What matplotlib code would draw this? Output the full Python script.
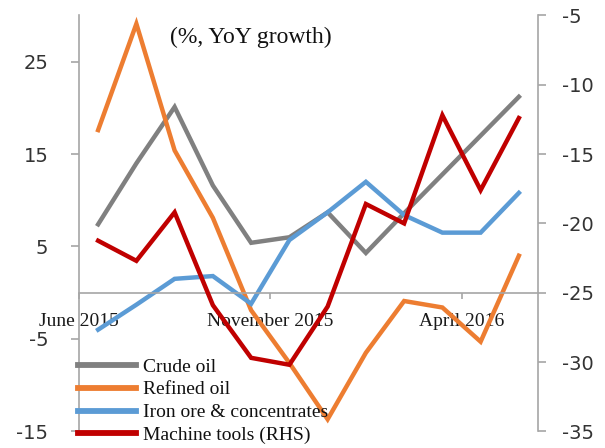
import numpy as np
import matplotlib
matplotlib.use("Agg")
import matplotlib.pyplot as plt

plt.rcParams["axes.unicode_minus"] = False

months = ["Jun 2015", "Jul 2015", "Aug 2015", "Sep 2015", "Oct 2015", "Nov 2015",
          "Dec 2015", "Jan 2016", "Feb 2016", "Mar 2016", "Apr 2016", "May 2016"]
crude_oil = [7.4, 14.0, 20.1, 11.6, 5.4, 6.0, 8.7, 4.3, 8.6, 12.8, 17.0, 21.2]
refined_oil = [17.6, 29.1, 15.4, 8.1, -1.9, -7.6, -13.7, -6.5, -0.9, -1.6, -5.3, 4.0]
iron_ore = [-4.0, -1.3, 1.5, 1.8, -1.2, 5.7, 8.7, 12.0, 8.4, 6.5, 6.5, 10.8]
machine_tools = [-21.25, -22.7, -19.2, -25.9, -29.7, -30.2, -26.0, -18.6, -20.0, -12.2, -17.6, -12.4]

xtick_pos = [0, 5, 10]
xtick_labels = ["June 2015", "November 2015", "April 2016"]
left_ticks = [-15, -5, 5, 15, 25]
right_ticks = [-35, -30, -25, -20, -15, -10, -5]

GRAY = "#808080"
ORANGE = "#ED7D31"
BLUE = "#5B9BD5"
RED = "#C00000"
AXC = "#A6A6A6"
TXT = "#333333"
SERIF = "Liberation Serif"

W, H = 605, 448
fig = plt.figure(figsize=(W / 100, H / 100), dpi=100)
ax = fig.add_axes([79 / W, 1 - 431.3 / H, (538 - 79) / W, (431.3 - 15.5) / H])
ax2 = ax.twinx()

x = np.arange(len(months)) + 0.5
lw = 3.2
l1, = ax.plot(x, crude_oil, color=GRAY, lw=lw, label="Crude oil", solid_joinstyle="miter")
l2, = ax.plot(x, refined_oil, color=ORANGE, lw=lw, label="Refined oil", solid_joinstyle="miter")
l3, = ax.plot(x, iron_ore, color=BLUE, lw=lw, label="Iron ore & concentrates", solid_joinstyle="miter")
l4, = ax2.plot(x, machine_tools, color=RED, lw=lw, label="Machine tools (RHS)", solid_joinstyle="miter")

for a in (ax, ax2):
    a.spines["top"].set_visible(False)
    a.patch.set_visible(False)
ax.spines["right"].set_visible(False)
ax2.spines["left"].set_visible(False)
ax2.spines["bottom"].set_visible(False)
ax.spines["left"].set_color(AXC)
ax2.spines["right"].set_color(AXC)
ax.spines["bottom"].set_position(("data", 0))
ax.spines["bottom"].set_color(AXC)
for s in ("left", "bottom"):
    ax.spines[s].set_linewidth(1.2)
ax2.spines["right"].set_linewidth(1.2)

ax.set_xlim(0, len(months))
ax.set_ylim(-15, 30)
ax2.set_ylim(-35, -5)

ax.set_yticks(left_ticks)
ax2.set_yticks(right_ticks)
ax.set_xticks(xtick_pos)
ax.set_xticklabels(xtick_labels)

ax.tick_params(axis="y", direction="out", length=6, width=1.2, color=AXC,
               labelsize=14, labelcolor=TXT, pad=16)
ax2.tick_params(axis="y", direction="out", length=6, width=1.2, color=AXC,
                labelsize=14, labelcolor=TXT, pad=11)
ax.tick_params(axis="x", direction="out", length=4, width=1.2, color=AXC, pad=10.5,
               labelsize=14, labelcolor="#1a1a1a")
for t in ax.get_xticklabels():
    t.set_fontfamily(SERIF)

fig.text(250.5 / W, 1 - 37 / H, "(%, YoY growth)", fontfamily=SERIF, fontsize=17,
         ha="center", va="center", color="#111111")

leg = fig.legend(handles=[l1, l2, l3, l4], loc="upper left",
                 bbox_to_anchor=(78 / W, 1 - 358 / H), bbox_transform=fig.transFigure,
                 frameon=False, prop={"family": SERIF, "size": 14},
                 handlelength=3.0, handletextpad=0.35, labelspacing=0.27,
                 borderpad=0, borderaxespad=0)
for h in leg.legend_handles:
    h.set_linewidth(4.2)
for t in leg.get_texts():
    t.set_color("#111111")

fig.savefig("out.png", dpi=100)
